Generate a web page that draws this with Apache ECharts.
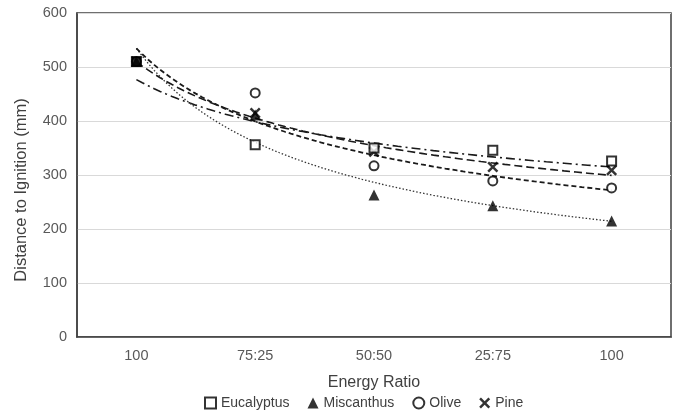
<!DOCTYPE html>
<html>
<head>
<meta charset="utf-8">
<script src="https://cdn.jsdelivr.net/npm/echarts@6/dist/echarts.min.js"></script>
<style>html,body{margin:0;padding:0;background:#fff}#c{width:677px;height:412px}</style>
</head>
<body>
<div id="c"></div>
<script>
const categories = ['100', '75:25', '50:50', '25:75', '100'];
const yTicks = [0, 100, 200, 300, 400, 500, 600];
const eucalyptus = [510, 356, 350, 346, 326];
const miscanthus = [510, 411, 263, 243, 215];
const olive = [510, 452, 317, 289, 276];
const pine = [510, 415, 343, 315, 309];

// Power trendline (Excel style): y = a * x^b, fitted from the data
function powerFit(vals) {
  const n = vals.length;
  let sx = 0, sy = 0;
  const lx = [], ly = [];
  for (let i = 0; i < n; i++) { lx.push(Math.log(i + 1)); ly.push(Math.log(vals[i])); sx += lx[i]; sy += ly[i]; }
  const mx = sx / n, my = sy / n;
  let sxy = 0, sxx = 0;
  for (let i = 0; i < n; i++) { sxy += (lx[i] - mx) * (ly[i] - my); sxx += (lx[i] - mx) * (lx[i] - mx); }
  const b = sxy / sxx, a = Math.exp(my - b * mx);
  const pts = [];
  for (let k = 0; k <= 80; k++) { const x = 1 + k * 4 / 80; pts.push([x, a * Math.pow(x, b)]); }
  return pts;
}

const xPath = 'path://M0,1.6 L1.6,0 L5,3.4 L8.4,0 L10,1.6 L6.6,5 L10,8.4 L8.4,10 L5,6.6 L1.6,10 L0,8.4 L3.4,5 Z';
const FONT = 'Liberation Sans';

function pts(vals) { return vals.map((v, i) => [i + 1, v]); }

const chart = echarts.init(document.getElementById('c'));
chart.setOption({
  animation: false,
  backgroundColor: '#fff',
  textStyle: { fontFamily: FONT },
  grid: { left: 77, right: 6, top: 13, bottom: 75, show: true, borderColor: '#404040', borderWidth: 1.5 },
  legend: {
    top: 396, left: 204, padding: 0, itemGap: 18, itemWidth: 11, itemHeight: 11,
    textStyle: { fontFamily: FONT, fontSize: 14, color: '#404040' },
    data: [
      { name: 'Eucalyptus', icon: 'rect' },
      { name: 'Miscanthus', icon: 'triangle' },
      { name: 'Olive', icon: 'circle' },
      { name: 'Pine', icon: xPath }
    ]
  },
  xAxis: [
    {
      type: 'category', data: categories, boundaryGap: true,
      axisLine: { show: true, lineStyle: { color: '#404040', width: 1.5 } },
      axisTick: { show: false },
      axisLabel: { color: '#595959', fontSize: 14.5, margin: 11, fontFamily: FONT },
      name: 'Energy Ratio', nameLocation: 'middle', nameGap: 38,
      nameTextStyle: { color: '#404040', fontSize: 16, fontFamily: FONT }
    },
    { type: 'value', min: 0.5, max: 5.5, show: false }
  ],
  yAxis: {
    type: 'value', min: yTicks[0], max: yTicks[yTicks.length - 1], interval: 100,
    axisLine: { show: true, lineStyle: { color: '#404040', width: 1.5 } },
    axisTick: { show: false },
    splitLine: { lineStyle: { color: '#d9d9d9', width: 1 } },
    axisLabel: { color: '#595959', fontSize: 14.5, margin: 10, fontFamily: FONT },
    name: 'Distance to Ignition (mm)', nameLocation: 'middle', nameGap: 47,
    nameTextStyle: { color: '#404040', fontSize: 16.5, fontFamily: FONT, padding: [0, 30, 0, 0] }
  },
  series: [
    { name: 'Eucalyptus fit', type: 'line', xAxisIndex: 1, data: powerFit(eucalyptus), showSymbol: false, smooth: false,
      lineStyle: { color: '#1a1a1a', width: 1.6, type: [9, 4, 2, 4] }, z: 2 },
    { name: 'Miscanthus fit', type: 'line', xAxisIndex: 1, data: powerFit(miscanthus), showSymbol: false,
      lineStyle: { color: '#333', width: 1.3, type: [1.5, 2] }, z: 2 },
    { name: 'Olive fit', type: 'line', xAxisIndex: 1, data: powerFit(olive), showSymbol: false,
      lineStyle: { color: '#1a1a1a', width: 1.8, type: [5, 3] }, z: 2 },
    { name: 'Pine fit', type: 'line', xAxisIndex: 1, data: powerFit(pine), showSymbol: false,
      lineStyle: { color: '#1a1a1a', width: 1.6, type: [8, 4] }, z: 2 },
    { name: 'Eucalyptus', type: 'scatter', xAxisIndex: 1, symbol: 'rect', symbolSize: 9,
      data: pts(eucalyptus).map((p, i) => i === 0 ? { value: p, itemStyle: { color: '#000' } } : p),
      itemStyle: { color: '#fff', borderColor: '#000', borderWidth: 2 }, z: 6 },
    { name: 'Miscanthus', type: 'scatter', xAxisIndex: 1, symbol: 'triangle', symbolSize: 11,
      data: pts(miscanthus), itemStyle: { color: '#000' }, z: 5 },
    { name: 'Olive', type: 'scatter', xAxisIndex: 1, symbol: 'circle', symbolSize: 9,
      data: pts(olive), itemStyle: { color: '#fff', borderColor: '#000', borderWidth: 2 }, z: 4 },
    { name: 'Pine', type: 'scatter', xAxisIndex: 1, symbol: xPath, symbolSize: 11,
      data: pts(pine), itemStyle: { color: '#000' }, z: 3 }
  ]
});
</script>
</body>
</html>
